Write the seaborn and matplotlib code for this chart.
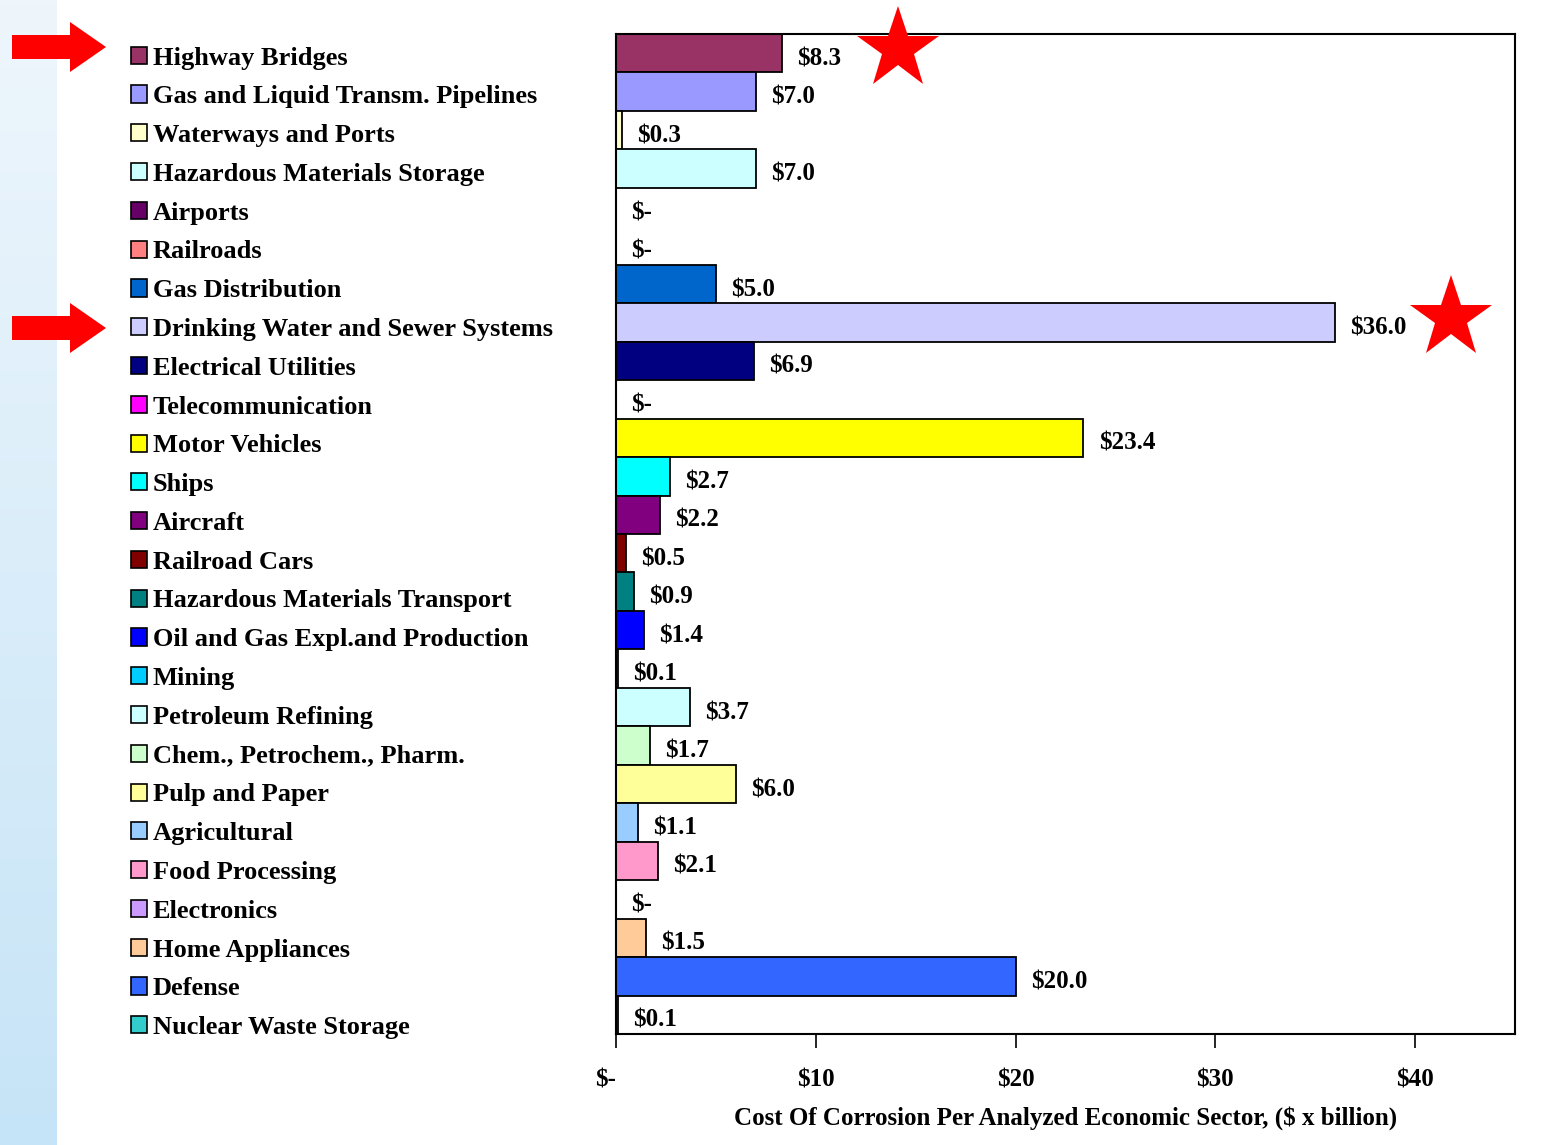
import numpy as np
import pandas as pd
import matplotlib
matplotlib.use("Agg")
import matplotlib.pyplot as plt
from matplotlib.patches import Patch, Polygon
import seaborn as sns

sectors = ["Highway Bridges", "Gas and Liquid Transm. Pipelines", "Waterways and Ports",
           "Hazardous Materials Storage", "Airports", "Railroads", "Gas Distribution",
           "Drinking Water and Sewer Systems", "Electrical Utilities", "Telecommunication",
           "Motor Vehicles", "Ships", "Aircraft", "Railroad Cars",
           "Hazardous Materials Transport", "Oil and Gas Expl.and Production", "Mining",
           "Petroleum Refining", "Chem., Petrochem., Pharm.", "Pulp and Paper",
           "Agricultural", "Food Processing", "Electronics", "Home Appliances", "Defense",
           "Nuclear Waste Storage"]
cost = [8.3, 7.0, 0.3, 7.0, 0.0, 0.0, 5.0, 36.0, 6.9, 0.0, 23.4, 2.7, 2.2, 0.5, 0.9,
        1.4, 0.1, 3.7, 1.7, 6.0, 1.1, 2.1, 0.0, 1.5, 20.0, 0.1]
colors = ["#993366", "#9999FF", "#FFFFCC", "#CCFFFF", "#660066", "#FF8080", "#0066CC",
          "#CCCCFF", "#000080", "#FF00FF", "#FFFF00", "#00FFFF", "#800080", "#800000",
          "#008080", "#0000FF", "#00CCFF", "#CCFFFF", "#CCFFCC", "#FFFF99", "#99CCFF",
          "#FF99CC", "#CC99FF", "#FFCC99", "#3366FF", "#33CCCC"]
xticks = [0, 10, 20, 30, 40]
xtick_labels = ["$-", "$10", "$20", "$30", "$40"]
starred = ["Highway Bridges", "Drinking Water and Sewer Systems"]

df = pd.DataFrame({"sector": sectors, "cost": cost})

sns.set_style("white")
plt.rcParams["font.family"] = ["Liberation Serif", "DejaVu Serif"]
plt.rcParams["font.weight"] = "bold"
plt.rcParams["text.color"] = "black"
plt.rcParams["axes.labelcolor"] = "black"
plt.rcParams["xtick.color"] = "black"

W, H = 1547, 1145
fig = plt.figure(figsize=(W / 100, H / 100), dpi=100)
ax = fig.add_axes([616 / W, 1 - 1034 / H, (1515 - 616) / W, (1034 - 34) / H])

sns.barplot(data=df, x="cost", y="sector", hue="sector", palette=colors, legend=False,
            orient="h", width=1.0, saturation=1, edgecolor="black", linewidth=1.3, ax=ax)

for cont, v in zip(ax.containers, cost):
    lab = "$-" if v == 0 else f"${v:.1f}"
    anns = ax.bar_label(cont, labels=[lab], padding=11, fontsize=18, fontweight="bold")
    for a in anns:
        a.xyann = (11, -4)

# red stars next to the highlighted sectors
for name in starred:
    i = sectors.index(name)
    ax.plot(cost[i] + 5.8, i - 0.12, marker="*", color="red", markersize=62,
            markeredgewidth=0, clip_on=False, zorder=5)

ax.set_xlim(0, 45)
ax.set_ylim(len(sectors) - 0.5, -0.5)
ax.set_xticks(xticks)
ax.set_xticklabels(xtick_labels, fontsize=18, fontweight="bold")
ax.get_xticklabels()[0].set_horizontalalignment("right")
ax.set_yticks([])
ax.set_ylabel("")
ax.set_xlabel("Cost Of Corrosion Per Analyzed Economic Sector, ($ x billion)",
              fontsize=18, fontweight="bold", labelpad=10)
ax.tick_params(axis="x", direction="out", length=10, width=1.2, pad=15, bottom=True)
for s in ax.spines.values():
    s.set_color("black")
    s.set_linewidth(1.5)

handles = [Patch(facecolor=c, edgecolor="black", linewidth=1.2) for c in colors]
fig.legend(handles, sectors, loc="upper left", bbox_to_anchor=(120 / W, 1 - 36 / H),
           frameon=False, fontsize=19, handlelength=0.62, handleheight=0.62,
           handletextpad=0.22, labelspacing=0.598, borderaxespad=0)

# light blue band on the left edge
band = fig.add_axes([0, 0, 56 / W, 1])
grad = np.linspace(0, 1, 256).reshape(-1, 1)
cmap = matplotlib.colors.LinearSegmentedColormap.from_list("band", ["#eef6fc", "#c6e4f7"])
band.imshow(grad, aspect="auto", cmap=cmap, extent=[0, 1, 0, 1], origin="upper")
band.axis("off")

# red arrows pointing at the highlighted legend entries
def arrow(yc):
    pts = [(12, yc - 12), (70, yc - 12), (70, yc - 25), (106, yc), (70, yc + 25),
           (70, yc + 12), (12, yc + 12)]
    pts = [(x / W, 1 - y / H) for x, y in pts]
    fig.add_artist(Polygon(pts, closed=True, facecolor="red", edgecolor="none",
                           transform=fig.transFigure))

arrow(47)
arrow(328)

fig.savefig("out.png", dpi=100)
